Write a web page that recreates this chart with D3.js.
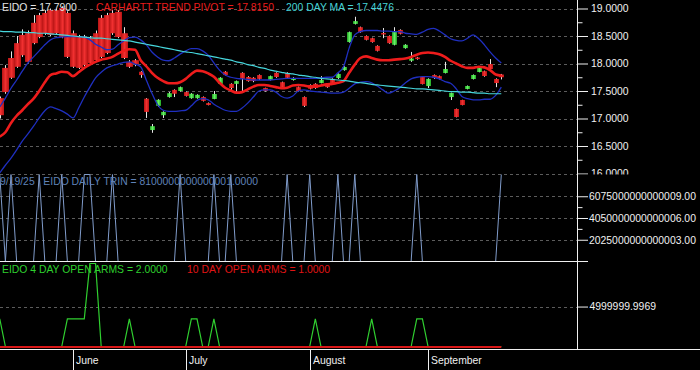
<!DOCTYPE html>
<html><head><meta charset="utf-8">
<script src="https://cdn.jsdelivr.net/npm/d3@7"></script>
<style>html,body{margin:0;padding:0;background:#000;overflow:hidden}</style>
</head><body>
<svg id="c" width="700" height="370"></svg>
<script>
// ---------- DATA ----------
const dates = ["05/13","05/14","05/15","05/16","05/19","05/20","05/21","05/22","05/23","05/27","05/28","05/29","05/30",
"06/02","06/03","06/04","06/05","06/06","06/09","06/10","06/11","06/12","06/13","06/16","06/17","06/18","06/20","06/23","06/24","06/25","06/26","06/27","06/30",
"07/01","07/02","07/03","07/07","07/08","07/09","07/10","07/11","07/14","07/15","07/16","07/17","07/18","07/21","07/22","07/23","07/24","07/25","07/28","07/29","07/30","07/31",
"08/01","08/04","08/05","08/06","08/07","08/08","08/11","08/12","08/13","08/14","08/15","08/18","08/19","08/20","08/21","08/22","08/25","08/26","08/27","08/28","08/29",
"09/02","09/03","09/04","09/05","09/08","09/09","09/10","09/11","09/12","09/15","09/16","09/17","09/18","09/19"];
const monthNames = {"06":"June","07":"July","08":"August","09":"September"};

const open = [17.37,17.92,18.10,18.37,18.52,18.55,18.74,18.88,18.92,18.97,18.97,19.01,18.92,18.55,18.48,18.48,18.46,18.55,18.83,18.88,18.92,18.94,18.55,18.03,18.06,
17.85,17.36,16.79,17.23,17.06,17.39,17.52,17.50,17.48,17.37,17.37,17.39,17.28,17.355,17.63,17.85,17.63,17.63,17.83,17.755,17.74,17.79,17.555,17.70,17.83,17.66,17.83,17.70,17.57,17.39,17.61,17.63,17.645,17.61,17.72,17.736,17.88,18.39,18.72,18.66,18.50,18.46,18.32,18.555,18.50,18.34,18.61,18.28,18.05,18.11,17.755,17.59,17.79,17.77,17.827,17.39,17.173,17.336,17.536,17.718,17.845,17.86,17.99,17.718,17.80];
const high = [17.40,17.97,18.22,18.50,18.62,18.60,18.88,18.92,18.97,19.00,19.00,19.04,18.95,18.60,18.52,18.52,18.50,18.60,18.88,18.92,18.97,18.97,18.66,18.06,18.08,
17.86,17.37,16.90,17.35,17.13,17.48,17.53,17.58,17.49,17.46,17.44,17.40,17.29,17.50,17.75,17.86,17.64,17.69,17.84,17.77,17.75,17.80,17.56,17.78,17.84,17.67,17.84,17.75,17.58,17.40,17.62,17.64,17.77,17.62,17.73,17.82,17.95,18.58,18.85,18.67,18.51,18.47,18.33,18.645,18.51,18.66,18.62,18.35,18.21,18.12,17.77,17.73,17.80,17.78,18.03,17.47,17.18,17.34,17.60,17.80,17.93,17.87,18.08,17.73,17.81];
const low = [17.00,17.45,17.72,17.92,18.12,18.00,18.35,18.46,18.52,18.50,18.52,18.46,18.10,17.92,17.90,17.95,17.99,18.04,18.10,18.17,18.52,18.46,18.08,17.92,17.95,
17.74,17.01,16.74,17.21,17.01,17.38,17.39,17.49,17.40,17.36,17.36,17.31,17.24,17.35,17.62,17.78,17.52,17.49,17.49,17.67,17.66,17.70,17.49,17.69,17.74,17.54,17.73,17.69,17.49,17.21,17.53,17.54,17.64,17.56,17.63,17.72,17.87,18.38,18.71,18.56,18.42,18.38,18.22,18.46,18.36,18.33,18.53,18.27,18.03,18.07,17.62,17.555,17.72,17.71,17.82,17.336,17.02,17.24,17.53,17.71,17.84,17.76,17.89,17.57,17.71];
const close = [17.06,17.48,17.74,17.94,18.15,18.03,18.37,18.48,18.55,18.52,18.55,18.48,18.12,17.94,17.92,17.97,18.01,18.06,18.12,18.19,18.55,18.48,18.10,17.94,17.99,
17.79,17.12,16.86,17.34,17.12,17.46,17.45,17.57,17.41,17.45,17.43,17.32,17.245,17.445,17.74,17.79,17.555,17.68,17.72,17.68,17.68,17.72,17.50,17.77,17.755,17.555,17.74,17.736,17.50,17.23,17.54,17.555,17.70,17.57,17.645,17.81,17.936,18.57,18.77,18.57,18.43,18.39,18.23,18.55,18.37,18.59,18.54,18.34,18.09,18.08,17.627,17.72,17.736,17.72,17.90,17.464,17.027,17.245,17.591,17.791,17.918,17.773,17.90,17.645,17.75];

const pivot = [16.67,16.75,16.92,17.05,17.15,17.26,17.36,17.50,17.66,17.79,17.82,17.85,17.84,17.77,17.84,17.92,17.98,18.03,18.07,18.09,18.12,18.18,18.23,18.26,18.25,
18.06,17.95,17.83,17.74,17.68,17.64,17.64,17.66,17.72,17.81,17.87,17.86,17.82,17.76,17.65,17.56,17.51,17.47,17.48,17.53,17.58,17.61,17.61,17.59,17.57,17.55,17.56,17.60,17.61,17.60,17.58,17.58,17.60,17.62,17.63,17.65,17.68,17.83,17.98,18.10,18.13,18.10,18.07,18.06,18.06,18.07,18.08,18.09,18.12,18.16,18.19,18.20,18.19,18.17,18.12,18.05,18.00,17.95,17.92,17.92,17.94,17.93,17.88,17.80,17.78];
const upperBand = [17.21,17.37,17.55,17.70,17.86,18.01,18.12,18.23,18.34,18.43,18.47,18.48,18.49,18.49,18.49,18.48,18.43,18.35,18.30,18.25,18.26,18.34,18.41,18.47,18.48,
18.43,18.34,18.21,18.12,18.06,18.05,18.10,18.17,18.23,18.27,18.27,18.23,18.15,18.01,17.88,17.79,17.75,17.73,17.72,17.71,17.70,17.70,17.70,17.70,17.71,17.72,17.73,17.73,17.73,17.73,17.73,17.73,17.74,17.75,17.75,17.83,17.94,18.28,18.52,18.58,18.60,18.60,18.60,18.59,18.59,18.58,18.58,18.55,18.54,18.53,18.57,18.62,18.64,18.59,18.52,18.45,18.42,18.41,18.46,18.52,18.45,18.34,18.21,18.10,18.01];
const lowerBand = [16.01,16.15,16.28,16.43,16.59,16.72,16.86,17.01,17.14,17.21,17.18,17.14,17.08,17.01,17.19,17.39,17.57,17.74,17.84,17.92,17.96,17.99,18.02,18.03,17.99,
17.94,17.70,17.46,17.25,17.15,17.13,17.13,17.14,17.15,17.23,17.33,17.36,17.34,17.26,17.20,17.15,17.13,17.13,17.19,17.28,17.39,17.50,17.52,17.52,17.48,17.40,17.37,17.41,17.50,17.52,17.50,17.49,17.48,17.47,17.46,17.46,17.48,17.55,17.63,17.66,17.67,17.65,17.59,17.52,17.46,17.50,17.56,17.65,17.72,17.75,17.76,17.76,17.75,17.72,17.67,17.64,17.54,17.40,17.36,17.34,17.34,17.35,17.35,17.42,17.57];
const ma200 = [18.59,18.58,18.58,18.57,18.57,18.56,18.56,18.55,18.55,18.54,18.53,18.52,18.51,18.50,18.49,18.48,18.47,18.46,18.46,18.45,18.44,18.43,18.42,18.41,18.39,
18.37,18.35,18.33,18.31,18.29,18.27,18.25,18.23,18.21,18.20,18.18,18.16,18.14,18.12,18.10,18.08,18.06,18.03,18.01,17.98,17.96,17.93,17.91,17.88,17.86,17.84,17.82,17.81,17.79,17.78,17.76,17.75,17.73,17.72,17.71,17.70,17.69,17.68,17.66,17.65,17.64,17.62,17.61,17.60,17.59,17.58,17.57,17.56,17.55,17.54,17.54,17.53,17.52,17.51,17.50,17.49,17.49,17.48,17.48,17.47,17.46,17.46,17.45,17.45,17.45];

const trin = [8.1e15,1,8.1e15,1,1,1,1,8.1e15,1,1,1,8.1e15,1,1,1,8.1e15,8.1e15,1,1,1,8.1e15,1,1,1,1,
1,1,1,1,1,1,1,8.1e15,1,1,1,1,1,8.1e15,1,1,8.1e15,1,1,1,1,1,1,1,1,1,8.1e15,1,1,1,8.1e15,1,1,1,1,8.1e15,1,1,8.1e15,1,1,1,1,1,1,1,1,1,1,8.1e15,1,1,1,1,1,1,1,1,1,1,1,1,1,1,8.1e15];
const arms4 = [1,0,0,0,0,0,0,0,0,0,0,0,1,1,1,1,3,3,0,0,0,0,0,1,0,
0,0,0,0,0,0,0,0,0,1,1,0,0,1,0,0,0,0,0,0,0,0,0,0,0,0,0,0,0,0,0,1,0,0,0,0,0,0,0,0,0,1,0,0,0,0,0,0,0,1,1,0,0,0,0,0,0,0,0,0,0,0,0,0,0];
const arms10 = new Array(90).fill(0);

const priceTicks = [19,18.5,18,17.5,17,16.5,16];
const priceLabels = ["19.0000","18.5000","18.0000","17.5000","17.0000","16.5000","16.0000"];
const priceMinor = [18.75,18.25,17.75,17.25,16.75,16.25];
const trinTicks = [6.075e15,4.05e15,2.025e15];
const trinLabels = ["6075000000000009.00","4050000000000006.00","2025000000000003.00"];
const trinMinor = [5.0625e15,3.0375e15];
const armsTicks = [1.444];
const armsLabels = ["4999999.9969"];

const titles = {
  price:"EIDO = 17.7900", pivot:"CARHARTT TREND PIVOT = 17.8150", ma:"200 DAY MA = 17.4476",
  trin:"9/19/25   EIDO DAILY TRIN = 8100000000000001.0000",
  a4:"EIDO 4 DAY OPEN ARMS = 2.0000", a10:"10 DAY OPEN ARMS = 1.0000"
};

// ---------- DRAW ----------
const FONT='"Liberation Sans", Arial, Helvetica, sans-serif';
const FS='10.4px';
const svg=d3.select('#c');
svg.append('rect').attr('width',700).attr('height',370).attr('fill','#000');
const AX=577.5;
const x=d3.scaleLinear().domain([0,89]).range([-0.25,501.3]);
const yP=d3.scaleLinear().domain([16,19]).range([173.5,8.5]);
const yT=d3.scaleLinear().domain([0,8.1e15]).range([261.5,174.5]);
const yA=d3.scaleLinear().domain([0,3]).range([346.5,263.5]);

const defs=svg.append('defs');
function clip(id,x0,y0,w,h){defs.append('clipPath').attr('id',id).append('rect').attr('x',x0).attr('y',y0).attr('width',w).attr('height',h);}
clip('c1',0,0,577,175.5); clip('c2',0,174,577,88); clip('c3',0,262,577,87); clip('cl1',578,0,122,174.5);
function grad(id,edge,mid){const g=defs.append('linearGradient').attr('id',id).attr('x1','0%').attr('x2','100%');
 g.append('stop').attr('offset','0%').attr('stop-color',edge);
 g.append('stop').attr('offset','50%').attr('stop-color',mid);
 g.append('stop').attr('offset','100%').attr('stop-color',edge);}
grad('gr','#b81414','#f03030'); grad('gg','#1fa51f','#66f066');

function grid(g,scale,vals){
  g.selectAll(null).data(vals).enter().append('line')
   .attr('x1',0).attr('x2',AX).attr('y1',d=>Math.round(scale(d))+0.5).attr('y2',d=>Math.round(scale(d))+0.5)
   .attr('stroke','#5c5c5c').attr('stroke-dasharray','3,3').attr('stroke-width',1);
}

// Panel 1
const p1=svg.append('g').attr('clip-path','url(#c1)');
grid(p1,yP,priceTicks);
const cw=i=>i<25?7:5;
const cg=p1.append('g');
const idx=d3.range(dates.length);
cg.selectAll('line.w').data(idx).enter().append('line').attr('class','w')
  .attr('x1',i=>Math.round(x(i))+0.5).attr('x2',i=>Math.round(x(i))+0.5)
  .attr('y1',i=>yP(high[i])).attr('y2',i=>yP(low[i]))
  .attr('stroke','#e6e6e6').attr('stroke-width',1);
cg.selectAll('rect').data(idx).enter().append('rect')
  .attr('x',i=>Math.round(x(i))+0.5-cw(i)/2)
  .attr('width',cw)
  .attr('y',i=>yP(Math.max(open[i],close[i])))
  .attr('height',i=>Math.max(1.5,Math.abs(yP(open[i])-yP(close[i]))))
  .attr('fill',i=>close[i]>=open[i]?'url(#gg)':'url(#gr)');
const line=(scale,arr)=>d3.line().x((d,i)=>x(i)).y(d=>scale(d)).curve(d3.curveMonotoneX)(arr);
p1.append('path').attr('d',line(yP,upperBand)).attr('fill','none').attr('stroke','#1f2fc0').attr('stroke-width',1.3);
p1.append('path').attr('d',line(yP,lowerBand)).attr('fill','none').attr('stroke','#1f2fc0').attr('stroke-width',1.3);
p1.append('path').attr('d',line(yP,pivot)).attr('fill','none').attr('stroke','#ee1c1c').attr('stroke-width',2.6);
p1.append('path').attr('d',line(yP,ma200)).attr('fill','none').attr('stroke','#46d6dc').attr('stroke-width',1.2);

function txt(s,x0,y0,col){svg.append('text').attr('x',x0).attr('y',y0).attr('fill',col)
  .attr('font-family',FONT).attr('font-size',FS).attr('xml:space','preserve').style('white-space','pre').text(s);}
txt(titles.price,2,11,'#e4e4e4');
txt(titles.pivot,96,11,'#e81c1c');
txt(titles.ma,286,11,'#46d2d6');

// Panel 2
const p2c=svg.append('g').attr('clip-path','url(#c2)');
grid(p2c,yT,trinTicks);
p2c.append('path').attr('d',d3.line().x((d,i)=>x(i)).y(d=>yT(d))(trin))
  .attr('fill','none').attr('stroke','#809ccb').attr('stroke-width',1);
txt(titles.trin,0,185,'#5f82b8');

// Panel 3
const p3=svg.append('g').attr('clip-path','url(#c3)');
grid(p3,yA,armsTicks);
p3.append('path').attr('d',d3.line().x((d,i)=>x(i)).y(d=>yA(d))(arms4))
  .attr('fill','none').attr('stroke','#30d030').attr('stroke-width',1.2);
p3.append('path').attr('d',d3.line().x((d,i)=>x(i)).y(d=>yA(d)+0.5)(arms10))
  .attr('fill','none').attr('stroke','#d81818').attr('stroke-width',2);
txt(titles.a4,2,272.5,'#2ed02e');
txt(titles.a10,187,272.5,'#e01414');

// Axes (right)
function styleAxis(g){g.select('.domain').remove();
  g.selectAll('text').attr('fill','#f0f0f0').attr('font-family',FONT).attr('font-size',FS);
  g.selectAll('.tick line').attr('stroke','#f0f0f0');}
const ax1=svg.append('g').attr('clip-path','url(#cl1)').append('g').attr('transform',`translate(${AX},0)`)
  .call(d3.axisRight(yP).tickValues(priceTicks).tickSize(10.5).tickPadding(3).tickFormat((d,i)=>priceLabels[i]));
styleAxis(ax1);
const ax1m=svg.append('g').attr('transform',`translate(${AX},0)`).call(d3.axisRight(yP).tickValues(priceMinor).tickSize(5).tickFormat(''));
styleAxis(ax1m);
const ax2=svg.append('g').attr('transform',`translate(${AX},0)`)
  .call(d3.axisRight(yT).tickValues(trinTicks).tickSize(10.5).tickPadding(1).tickFormat((d,i)=>trinLabels[i]));
styleAxis(ax2);
const ax2m=svg.append('g').attr('transform',`translate(${AX},0)`).call(d3.axisRight(yT).tickValues(trinMinor).tickSize(5).tickFormat(''));
styleAxis(ax2m);
const ax3=svg.append('g').attr('transform',`translate(${AX},0)`)
  .call(d3.axisRight(yA).tickValues(armsTicks).tickSize(10.5).tickPadding(1.5).tickFormat((d,i)=>armsLabels[i]));
styleAxis(ax3);

// frame lines
svg.append('line').attr('x1',AX).attr('x2',AX).attr('y1',0).attr('y2',349).attr('stroke','#f0f0f0');
svg.append('line').attr('x1',0).attr('x2',588).attr('y1',261.5).attr('y2',261.5).attr('stroke','#f0f0f0');
svg.append('line').attr('x1',0).attr('x2',700).attr('y1',349.5).attr('y2',349.5).attr('stroke','#f0f0f0');

// month ticks
const mStarts=idx.filter(i=>i>0 && dates[i].slice(0,2)!==dates[i-1].slice(0,2));
const mg=svg.append('g');
mg.selectAll('line').data(mStarts).enter().append('line')
  .attr('x1',i=>Math.round(x(i))+0.5).attr('x2',i=>Math.round(x(i))+0.5).attr('y1',349).attr('y2',370).attr('stroke','#f0f0f0');
mg.selectAll('text').data(mStarts).enter().append('text')
  .attr('x',i=>Math.round(x(i))+3).attr('y',364).attr('fill','#f0f0f0')
  .attr('font-family',FONT).attr('font-size',FS).text(i=>monthNames[dates[i].slice(0,2)]);
</script>
</body></html>
